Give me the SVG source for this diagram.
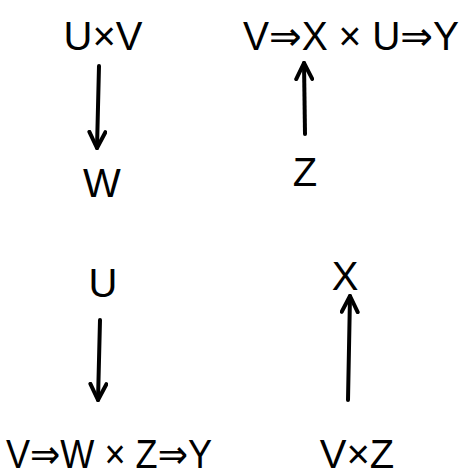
<svg xmlns="http://www.w3.org/2000/svg" width="472" height="476" viewBox="0 0 472 476">
<style>
text{font-family:"Liberation Sans","DejaVu Sans",sans-serif;font-size:40px;fill:#000;text-anchor:middle}
.c{stroke:#000;stroke-width:4;fill:none;stroke-linecap:round;stroke-linejoin:round}
</style>
<defs>
<marker id="ah" viewBox="0 0 20 20" refX="18" refY="10" markerWidth="20" markerHeight="20" markerUnits="userSpaceOnUse" orient="auto">
<path d="M2,2 L18,10 L2,18" fill="none" stroke="#000" stroke-width="4" stroke-linecap="round" stroke-linejoin="round"/>
</marker>
</defs>
<rect width="472" height="476" fill="#fff"/>
<g id="n1"><text x="103" y="50">U×V</text></g>
<g id="n2"><text x="102" y="197">W</text></g>
<g id="n3"><text x="351" y="50" textLength="216" lengthAdjust="spacingAndGlyphs">V⇒X × U⇒Y</text></g>
<g id="n4"><text x="305" y="186">Z</text></g>
<g id="n5"><text x="103" y="297">U</text></g>
<g id="n6"><text x="109" y="468" textLength="206" lengthAdjust="spacingAndGlyphs">V⇒W × Z⇒Y</text></g>
<g id="n7"><text x="345" y="290">X</text></g>
<g id="n8"><text x="357" y="468">V×Z</text></g>
<g id="connectors">
<path class="c" d="M99,66 L97,148" marker-end="url(#ah)"/>
<path class="c" d="M305,134 L304,63" marker-end="url(#ah)"/>
<path class="c" d="M100,320 L98,400" marker-end="url(#ah)"/>
<path class="c" d="M348,400 L350,296" marker-end="url(#ah)"/>
</g>
</svg>
